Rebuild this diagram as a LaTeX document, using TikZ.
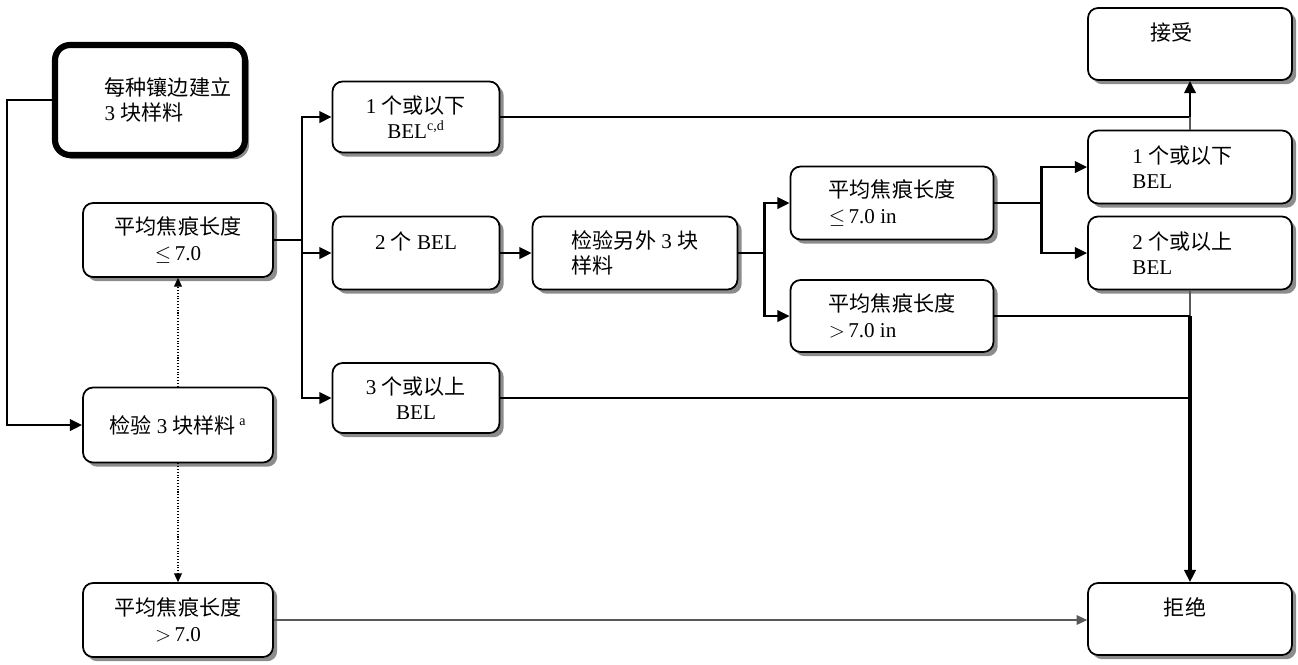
\documentclass[tikz,border=0pt]{standalone}
\usepackage{fontspec}
\setmainfont{Liberation Serif}
\newfontfamily\cjk{Noto Sans CJK SC}
\usepackage{tikz}
\usetikzlibrary{positioning,arrows.meta,shadows}

\tikzset{
  box/.style={draw, line width=1pt, rounded corners=0.2cm, fill=white,
    drop shadow={shadow xshift=2.4pt, shadow yshift=-2.4pt, fill=black!45, opacity=1},
    font=\fontsize{12}{14.5}\selectfont, inner sep=2pt},
  conn/.style={->, line width=1.4pt},
  thinline/.style={gray!70!black, line width=0.6pt},
  thinconn/.style={->, >={Triangle[length=6pt,width=5.5pt]}, thinline},
  dotconn/.style={->, >={Triangle[length=5pt,width=4.5pt]}, densely dotted, line width=0.6pt},
}

\begin{document}
\begin{tikzpicture}[x=0.02cm, y=-0.02cm, >={Triangle[length=7pt,width=6.5pt]}]
\useasboundingbox (0,0) rectangle (1298,664);
% Nodes - left column
\node[box, minimum width=3.8cm, minimum height=2.2cm, line width=3.5pt, rounded corners=0.3cm, align=left] (start) at (150,100) {\hspace*{0.72cm}{\cjk 每种镶边建立}\\\hspace*{0.72cm}3 {\cjk 块样料}};
\node[box, minimum width=3.8cm, minimum height=1.48cm, align=center] (avg1) at (178,240) {{\cjk 平均焦痕长度}\\$\leq$\,7.0};
\node[box, minimum width=3.8cm, minimum height=1.5cm, align=center] (test) at (178,425) {{\cjk 检验} 3 {\cjk 块样料}\,\textsuperscript{a}};
\node[box, minimum width=3.8cm, minimum height=1.48cm, align=center] (avg2) at (178,620) {{\cjk 平均焦痕长度}\\$>$\,7.0};

% Nodes - counts
\node[box, minimum width=3.34cm, minimum height=1.42cm, align=center] (one) at (416,117) {1 {\cjk 个或以下}\\BEL\textsuperscript{c,d}};
\node[box, minimum width=3.34cm, minimum height=1.46cm, align=center] (two) at (416,253) {2 {\cjk 个} BEL\\~};
\node[box, minimum width=3.34cm, minimum height=1.4cm, align=center] (three) at (416,398) {3 {\cjk 个或以上}\\BEL};
\node[box, minimum width=4.1cm, minimum height=1.46cm, align=left] (other) at (635,253) {{\cjk 检验另外} 3 {\cjk 块}\\{\cjk 样料}};

% Nodes - second check
\node[box, minimum width=4.06cm, minimum height=1.46cm, align=left] (avg3) at (892,203) {{\cjk 平均焦痕长度}\\$\leq$\,7.0 in};
\node[box, minimum width=4.06cm, minimum height=1.44cm, align=left] (avg4) at (892,316) {{\cjk 平均焦痕长度}\\$>$\,7.0 in};

% Nodes - right column
\node[box, minimum width=4.08cm, minimum height=1.44cm, align=left] (accept) at (1190,44) {{\cjk 接受}\hspace*{0.75cm}\\~};
\node[box, minimum width=4.08cm, minimum height=1.46cm, align=left] (one2) at (1190,167) {1 {\cjk 个或以下}\hspace*{0.3cm}\\BEL};
\node[box, minimum width=4.08cm, minimum height=1.46cm, align=left] (twoplus) at (1190,253) {2 {\cjk 个或以上}\hspace*{0.3cm}\\BEL};
\node[box, minimum width=4.08cm, minimum height=1.44cm, align=left] (reject) at (1190,619) {{\cjk 拒绝}\hspace*{0.2cm}\\~};

% Arrows
\draw[conn] (start.west) -- ++(-45,0) |- (test.west);
\draw[dotconn] (test.north) -- (avg1.south);
\draw[dotconn] (test.south) -- (avg2.north);
\draw[thinconn] (avg2.east) -- (avg2.east -| reject.west);

\draw[line width=1.4pt] (avg1.east) -- ++(28,0) coordinate (s1);
\draw[conn] (s1) |- (one.west);
\draw[conn] (s1) |- (two.west);
\draw[conn] (s1) |- (three.west);

\draw[conn] (one.east) -| (accept.south);
\draw[conn] (two.east) -- (other.west);

\draw[line width=1.4pt] (other.east) -- ++(26,0) coordinate (s2);
\draw[conn] (s2) |- (avg3.west);
\draw[conn] (s2) |- (avg4.west);

\draw[line width=1.4pt] (avg3.east) -- ++(47,0) coordinate (s3);
\draw[conn] (s3) |- (one2.west);
\draw[conn] (s3) |- (twoplus.west);

\draw[thinline] (one2.north) -- (one2.north |- one.east);
\draw[thinline] (twoplus.south) -- (twoplus.south |- avg4.east);
\draw[line width=1.4pt] (three.east) -- (three.east -| reject.north);
\draw[line width=1.4pt] (avg4.east) -- (avg4.east -| reject.north) coordinate (j4);
\draw[conn, line width=1.9pt] (j4) -- (reject.north);
\end{tikzpicture}
\end{document}
